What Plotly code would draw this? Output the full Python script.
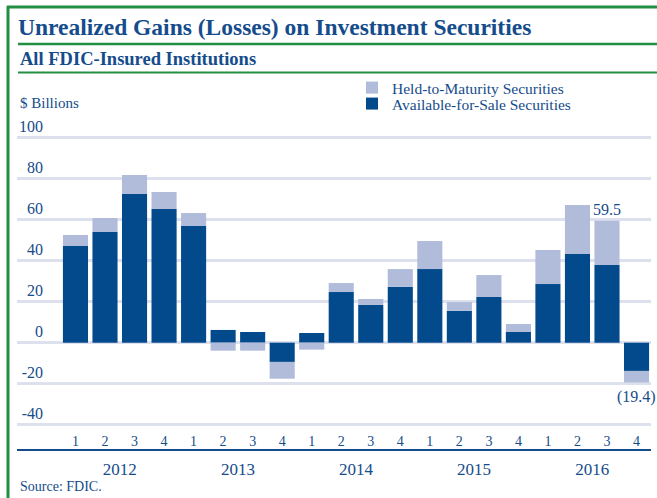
import plotly.graph_objects as go

W, H = 657, 498

years = ["2012", "2013", "2014", "2015", "2016"]
quarters = ["1", "2", "3", "4"]
periods = [f"{y} Q{q}" for y in years for q in quarters]
quarter_labels = [q for y in years for q in quarters]

afs = [47.2, 54.0, 72.5, 65.2, 56.9, 6.2, 5.2, -9.4, 4.7, 24.7,
       18.4, 27.2, 35.9, 15.5, 22.3, 5.2, 28.6, 43.3, 37.9, -13.8]
htm = [5.3, 6.8, 9.3, 8.3, 6.4, -3.9, -3.9, -8.2, -3.4, 4.4,
       2.9, 8.7, 13.7, 4.3, 10.7, 3.9, 16.6, 23.9, 21.6, -5.6]

y_ticks = [100, 80, 60, 40, 20, 0, -20, -40]

C_AFS = "#034A8C"
C_HTM = "#B0BCD9"
C_TXT = "#154C8B"
C_GRID = "#DDE1EE"
C_GREEN = "#228F42"
FONT = "Liberation Serif"

fig = go.Figure()
fig.add_trace(go.Bar(x=periods, y=afs, name="Available-for-Sale Securities",
                     marker=dict(color=C_AFS, line=dict(width=0)), legend="legend2"))
fig.add_trace(go.Bar(x=periods, y=htm, name="Held-to-Maturity Securities",
                     marker=dict(color=C_HTM, line=dict(width=0)), legend="legend"))

n = len(periods)
xr = [-1.98, n - 1 + 0.49]
year_pos = [i * 4 + 1.5 for i in range(len(years))]

def px(x):
    return x / W

def py(y):
    return 1 - y / H

leg_common = dict(xanchor="left", yanchor="middle", bgcolor="rgba(0,0,0,0)",
                  font=dict(family=FONT, size=15.5, color=C_TXT),
                  itemclick=False, itemdoubleclick=False)

fig.update_layout(
    width=W, height=H, autosize=False,
    margin=dict(l=0, r=0, t=0, b=0, autoexpand=False),
    paper_bgcolor="white", plot_bgcolor="white",
    barmode="relative", bargap=0.15,
    font=dict(family=FONT, color=C_TXT, size=14),
    showlegend=True,
    legend=dict(x=px(352), y=py(88), **leg_common),
    legend2=dict(x=px(352), y=py(104), **leg_common),
    title=dict(text="<b>Unrealized Gains (Losses) on Investment Securities</b>",
               x=px(18), xanchor="left", y=py(27), yanchor="middle",
               font=dict(family=FONT, size=23.5, color=C_TXT)),
    xaxis=dict(domain=[px(17), px(651)], range=xr, type="category",
               tickmode="array", tickvals=periods, ticktext=quarter_labels,
               ticklabelposition="inside", ticks="", showgrid=False,
               showline=True, linecolor=C_TXT, linewidth=2,
               tickfont=dict(family=FONT, size=14, color=C_TXT), anchor="y"),
    xaxis2=dict(overlaying="x", range=xr, anchor="y", side="bottom",
                tickmode="array", tickvals=year_pos, ticktext=years,
                ticks="", ticklabelstandoff=8, showgrid=False, showline=False,
                zeroline=False, tickfont=dict(family=FONT, size=17, color=C_TXT)),
    yaxis=dict(domain=[py(449), py(135.7)], range=[-51.9, 101],
               anchor="free", position=px(43), ticklabelposition="outside top",
               tickmode="array", tickvals=y_ticks, ticktext=[str(v) for v in y_ticks],
               ticks="", showline=False, zeroline=False,
               showgrid=True, gridcolor=C_GRID, gridwidth=3,
               tickfont=dict(family=FONT, size=16, color=C_TXT)),
)

# invisible trace so xaxis2 is drawn
fig.add_trace(go.Scatter(x=[year_pos[0]], y=[None], xaxis="x2", yaxis="y",
                         showlegend=False, hoverinfo="skip", mode="markers"))

totals = [a + h for a, h in zip(afs, htm)]
fig.add_annotation(x=periods[18], y=totals[18], text="59.5", showarrow=False,
                   yanchor="bottom", yshift=1, font=dict(family=FONT, size=16, color=C_TXT))
fig.add_annotation(x=periods[19], y=totals[19], text="(19.4)", showarrow=False,
                   yanchor="top", yshift=-4, font=dict(family=FONT, size=16, color=C_TXT))

fig.add_annotation(x=px(18), y=py(59), xref="paper", yref="paper", xanchor="left",
                   yanchor="middle", showarrow=False,
                   text="<b>All FDIC-Insured Institutions</b>",
                   font=dict(family=FONT, size=18.5, color=C_TXT))
fig.add_annotation(x=px(18), y=py(103), xref="paper", yref="paper", xanchor="left",
                   yanchor="middle", showarrow=False, text="$ Billions",
                   font=dict(family=FONT, size=15, color=C_TXT))
fig.add_annotation(x=px(18), y=py(486), xref="paper", yref="paper", xanchor="left",
                   yanchor="middle", showarrow=False, text="Source: FDIC.",
                   font=dict(family=FONT, size=14, color=C_TXT))

shapes = [
    dict(type="line", xref="paper", yref="paper", x0=px(8), x1=px(8), y0=py(6), y1=0,
         line=dict(color=C_GREEN, width=3)),
    dict(type="line", xref="paper", yref="paper", x0=px(7), x1=1, y0=py(7), y1=py(7),
         line=dict(color=C_GREEN, width=3)),
    dict(type="line", xref="paper", yref="paper", x0=px(18), x1=1, y0=py(44), y1=py(44),
         line=dict(color=C_GREEN, width=2.5)),
    dict(type="line", xref="paper", yref="paper", x0=px(18), x1=1, y0=py(72.5), y1=py(72.5),
         line=dict(color=C_GREEN, width=2)),
]
fig.update_layout(shapes=shapes)

fig.write_html("out.html", config={"displayModeBar": False},
               post_script="document.body.style.margin='0';")
